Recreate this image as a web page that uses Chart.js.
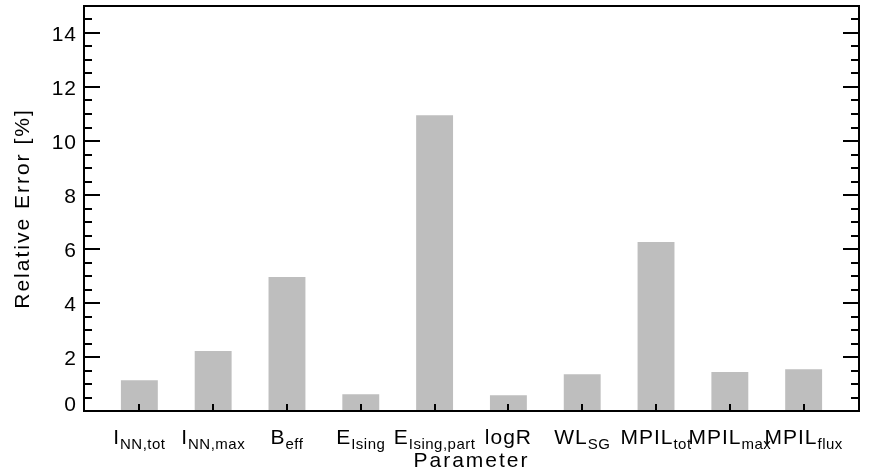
<!DOCTYPE html>
<html>
<head>
<meta charset="utf-8">
<title>Relative Error per Parameter</title>
<script src="https://cdn.jsdelivr.net/npm/chart.js@4"></script>
<style>
  html, body { margin: 0; padding: 0; background: #fff; }
  canvas { display: block; }
</style>
</head>
<body>
<canvas id="errChart" width="882" height="475"></canvas>
<script>
// parameter names: [main text, subscript]
const paramNames = [
  ['I', 'NN,tot'],
  ['I', 'NN,max'],
  ['B', 'eff'],
  ['E', 'Ising'],
  ['E', 'Ising,part'],
  ['logR', ''],
  ['WL', 'SG'],
  ['MPIL', 'tot'],
  ['MPIL', 'max'],
  ['MPIL', 'flux'],
];

// relative error in percent
const relError = [1.14, 2.22, 4.96, 0.62, 10.95, 0.58, 1.36, 6.26, 1.44, 1.55];

const yTickLabels = [0, 2, 4, 6, 8, 10, 12, 14];
const yMinorStep = 0.5;

const FONT = '"Liberation Sans", Arial, sans-serif';

// IDL style box axes with inward ticks and subscripted labels
const idlAxes = {
  id: 'idlAxes',
  afterDatasetsDraw(chart) {
    const ctx = chart.ctx;
    const xs = chart.scales.x;
    const ys = chart.scales.y;
    const left = chart.chartArea.left;
    const right = chart.chartArea.right;
    const top = ys.getPixelForValue(ys.max);
    const bottom = ys.getPixelForValue(0);

    ctx.save();
    ctx.strokeStyle = '#000';
    ctx.lineWidth = 2;
    ctx.lineCap = 'square';
    ctx.strokeRect(left, top, right - left, bottom - top);

    // y ticks on both sides
    ctx.lineCap = 'butt';
    for (let v = 0; v <= ys.max + 1e-9; v += yMinorStep) {
      const py = Math.round(ys.getPixelForValue(v));
      const major = yTickLabels.includes(v);
      const len = major ? 16 : 8;
      ctx.beginPath();
      ctx.moveTo(left, py);
      ctx.lineTo(left + len, py);
      ctx.moveTo(right, py);
      ctx.lineTo(right - len, py);
      ctx.stroke();
    }

    // x ticks at bar centres
    paramNames.forEach((_, i) => {
      const px = Math.round(xs.getPixelForValue(i));
      ctx.beginPath();
      ctx.moveTo(px, bottom);
      ctx.lineTo(px, bottom - 7);
      ctx.stroke();
    });

    ctx.fillStyle = '#000';
    const mainFont = '21px ' + FONT;
    const subFont = '15px ' + FONT;

    // y tick labels
    ctx.font = mainFont;
    ctx.letterSpacing = '1px';
    ctx.textAlign = 'right';
    ctx.textBaseline = 'middle';
    yTickLabels.forEach(v => {
      const py = Math.min(ys.getPixelForValue(v) + 2, bottom - 6);
      ctx.fillText(String(v), left - 7, py);
    });

    // x labels with subscripts
    ctx.textAlign = 'left';
    ctx.textBaseline = 'alphabetic';
    paramNames.forEach(([main, sub], i) => {
      ctx.font = mainFont;
      ctx.letterSpacing = '1px';
      const wMain = ctx.measureText(main).width;
      ctx.font = subFont;
      ctx.letterSpacing = '0.5px';
      const wSub = sub ? ctx.measureText(sub).width : 0;
      const cx = xs.getPixelForValue(i);
      const x0 = cx - (wMain + wSub) / 2;
      ctx.font = mainFont;
      ctx.letterSpacing = '1px';
      ctx.fillText(main, x0, bottom + 33);
      if (sub) {
        ctx.font = subFont;
        ctx.letterSpacing = '0.5px';
        ctx.fillText(sub, x0 + wMain, bottom + 38);
      }
    });

    // axis titles
    ctx.font = mainFont;
    ctx.letterSpacing = '2px';
    ctx.textAlign = 'center';
    ctx.fillText('Parameter', (left + right) / 2, bottom + 56);

    ctx.save();
    ctx.translate(23, (top + bottom) / 2);
    ctx.rotate(-Math.PI / 2);
    ctx.textBaseline = 'middle';
    ctx.fillText('Relative Error [%]', 0, 0);
    ctx.restore();

    ctx.restore();
  }
};

new Chart(document.getElementById('errChart'), {
  type: 'bar',
  data: {
    datasets: [{
      data: relError.map((v, i) => ({ x: i, y: v })),
      backgroundColor: '#bebebe',
      borderWidth: 0,
      barPercentage: 0.5,
      categoryPercentage: 1.0,
    }],
  },
  options: {
    responsive: false,
    animation: false,
    layout: { padding: { left: 84, top: 6, right: 23, bottom: 64 } },
    plugins: {
      legend: { display: false },
      tooltip: { enabled: false },
    },
    scales: {
      x: {
        type: 'linear', min: -0.75, max: 9.75, offset: false, display: false,
        ticks: { stepSize: 1, includeBounds: false },
      },
      y: { type: 'linear', min: 0, max: 15, display: false },
    },
  },
  plugins: [idlAxes],
});
</script>
</body>
</html>
